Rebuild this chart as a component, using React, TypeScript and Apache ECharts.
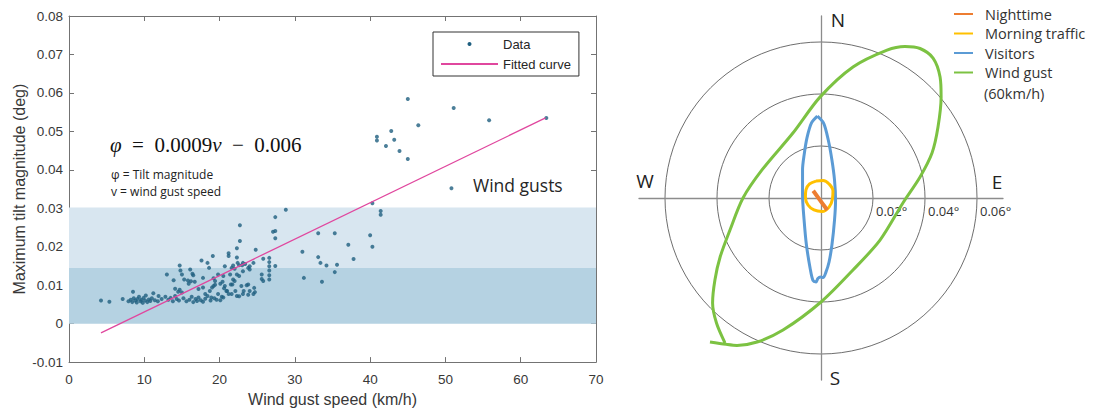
import React, { useEffect, useRef } from "react";
import * as echarts from "echarts";

// ---------- Left panel data ----------
const xTickStep = 10;
const yTickStep = 0.01;
const bandEdges = [0, 0.0145, 0.0302]; // traffic: 0..0.0145, visitors: 0.0145..0.0302
const bandNames = ["Traffic", "Visitors", "Wind gusts"];

const lowWindPoints = [
  [4.25, 0.006], [5.36, 0.0057], [7.13, 0.0064], [7.9, 0.0058], [8.2, 0.0062], [8.4, 0.0056],
  [8.5, 0.0083], [8.6, 0.0066], [8.8, 0.006], [9.0, 0.0055], [9.1, 0.0064], [9.3, 0.007],
  [9.5, 0.0058], [9.6, 0.0062], [9.8, 0.0054], [9.9, 0.0067], [10.1, 0.006], [10.2, 0.0073],
  [10.4, 0.0056], [10.6, 0.0063], [10.8, 0.0059], [11.0, 0.0066], [11.2, 0.0079], [11.4, 0.0061],
  [11.8, 0.0058], [11.9, 0.0072], [12.3, 0.0064], [12.8, 0.007], [13.0, 0.0128], [13.2, 0.0062],
  [13.5, 0.0067], [13.8, 0.0058], [13.9, 0.0113], [14.1, 0.0091], [14.1, 0.0072], [14.3, 0.0064],
  [14.5, 0.0083], [14.6, 0.006], [14.7, 0.0088], [14.7, 0.0151], [14.8, 0.0138], [15.0, 0.0128],
  [15.0, 0.0081], [15.2, 0.0066], [15.3, 0.0115], [15.6, 0.0058], [15.8, 0.0112], [15.9, 0.0104],
  [16.0, 0.0062], [16.1, 0.0141], [16.2, 0.011], [16.3, 0.007], [16.4, 0.013], [16.5, 0.0056],
  [16.5, 0.0126], [16.7, 0.0109], [16.8, 0.0064], [17.0, 0.0059], [17.2, 0.0068], [17.2, 0.009],
  [17.5, 0.0061], [17.6, 0.0164], [17.8, 0.0119], [17.8, 0.0094], [17.8, 0.0057], [18.1, 0.0065],
  [18.1, 0.0077], [18.4, 0.0072], [18.4, 0.0158], [18.6, 0.0145], [18.7, 0.0085], [18.8, 0.006],
  [18.9, 0.0068], [19.0, 0.0094], [19.1, 0.0176], [19.2, 0.0118], [19.2, 0.0098], [19.3, 0.0066],
  [19.4, 0.0101], [19.4, 0.0111], [19.6, 0.0062], [19.8, 0.0128], [19.8, 0.0077],
];

const midWindPoints = [
  [20.1, 0.0061], [20.1, 0.0104], [20.3, 0.007], [20.4, 0.0109], [20.5, 0.0124], [20.5, 0.0068],
  [20.6, 0.0092], [20.7, 0.0098], [20.7, 0.0149], [20.9, 0.0085], [21.0, 0.0085], [21.2, 0.0077],
  [21.2, 0.0183], [21.2, 0.0176], [21.4, 0.0128], [21.5, 0.0102], [21.6, 0.0077], [21.6, 0.0145],
  [21.7, 0.0102], [21.8, 0.0115], [21.8, 0.0151], [22.0, 0.0111], [22.0, 0.0143], [22.1, 0.0085],
  [22.3, 0.0128], [22.3, 0.0072], [22.3, 0.0196], [22.3, 0.0172], [22.4, 0.0158], [22.6, 0.0124],
  [22.6, 0.0071], [22.6, 0.0152], [22.7, 0.0256], [22.7, 0.0215], [22.9, 0.0098], [23.0, 0.0152],
  [23.1, 0.0136], [23.1, 0.0077], [23.1, 0.0158], [23.2, 0.0085], [23.4, 0.0155], [23.6, 0.01],
  [23.8, 0.0102], [23.8, 0.0075], [23.8, 0.0145], [24.0, 0.0141], [24.0, 0.0085], [24.0, 0.0149],
  [24.5, 0.0077], [24.5, 0.0158], [24.6, 0.0093], [24.7, 0.0082], [24.8, 0.0192], [25.6, 0.0128],
  [25.6, 0.0116], [25.8, 0.0111], [25.8, 0.0169], [26.6, 0.0171], [26.6, 0.016], [26.6, 0.0149],
  [26.6, 0.0138], [26.6, 0.0126], [26.6, 0.0115], [27.1, 0.0239], [27.4, 0.0241], [27.4, 0.0277],
  [27.4, 0.0222], [27.4, 0.015], [28.8, 0.0296],
];

const highWindPoints = [
  [31.0, 0.0187], [31.2, 0.0119], [33.1, 0.0235], [33.1, 0.0173], [33.4, 0.0158], [33.6, 0.0109],
  [34.2, 0.0151], [35.3, 0.0235], [35.3, 0.0134], [35.6, 0.0153], [37.1, 0.0205], [37.8, 0.0168],
  [40.0, 0.023], [40.3, 0.02], [40.3, 0.0313], [41.4, 0.0293], [41.4, 0.0283], [40.9, 0.0486],
  [40.9, 0.0476], [42.1, 0.0462], [42.8, 0.0501], [43.2, 0.0478], [43.9, 0.0449], [45.0, 0.0584],
  [45.0, 0.0428], [46.4, 0.0516], [50.8, 0.0352], [51.1, 0.0561], [55.8, 0.0529], [63.4, 0.0535],
];

const fittedCurve = [[4.25, -0.0024], [63.3, 0.0535]];

// ---------- Right panel data (tilt in degrees, [East, North]) ----------
const ringValues = [0.02, 0.04, 0.06];
const compassLabels = ["N", "S", "E", "W"];

const nighttime = [[-0.003, 0.0028], [-0.0004, -0.0008], [0.0024, -0.0046]];

const morningTraffic = [
  [-0.0019, 0.0065], [0.0008, 0.0067], [0.0031, 0.0054], [0.0046, 0.0027], [0.0044, -0.0004],
  [0.0031, -0.0035], [0.0004, -0.0052], [-0.0027, -0.0046], [-0.005, -0.0027], [-0.006, 0.0004],
  [-0.0058, 0.0031], [-0.0044, 0.0054], [-0.0019, 0.0065],
];

const visitors = [
  [-0.0014, 0.0315], [0.001, 0.0288], [0.0028, 0.0223], [0.0042, 0.0146], [0.0052, 0.0069],
  [0.0056, -0.0008], [0.0052, -0.0085], [0.0042, -0.0181], [0.0031, -0.0246], [0.0019, -0.0285],
  [0.0008, -0.0306], [-0.0002, -0.0304], [-0.0012, -0.031], [-0.0019, -0.0323], [-0.0031, -0.0317],
  [-0.0042, -0.0269], [-0.0056, -0.0181], [-0.0065, -0.0085], [-0.0071, 0.0012], [-0.0071, 0.0108],
  [-0.0065, 0.0165], [-0.0054, 0.0231], [-0.0037, 0.0288], [-0.0014, 0.0315],
];

const windGust = [
  [-0.0427, -0.0554], [-0.0365, -0.0563], [-0.0323, -0.0567], [-0.0246, -0.0554], [-0.0146, -0.0508],
  [0.0, -0.04], [0.0123, -0.0277], [0.0227, -0.0162], [0.0315, -0.0019], [0.0381, 0.0081],
  [0.0427, 0.0173], [0.045, 0.0273], [0.0462, 0.0388], [0.0458, 0.0465], [0.0431, 0.0538],
  [0.0381, 0.0575], [0.0323, 0.0583], [0.0254, 0.0569], [0.0123, 0.0504], [-0.0004, 0.0388],
  [-0.0108, 0.025], [-0.0227, 0.0108], [-0.03, 0.0], [-0.035, -0.0123], [-0.0388, -0.0227],
  [-0.0408, -0.0315], [-0.0417, -0.0404], [-0.0402, -0.0481], [-0.0369, -0.0558],
];

const AXIS_GRAY = "#737373";
const TEXT_GRAY = "#383838";
const SANS = "'Liberation Sans', Arial, sans-serif";
const NOTE = "'Open Sans', 'Noto Sans', sans-serif";

export default function App() {
  const ref = useRef<HTMLDivElement>(null);

  useEffect(() => {
    const chart = echarts.init(ref.current!, undefined, { renderer: "svg" });

    const ringFmt = (v: number) => {
      const r = Math.round(v * 1000) / 1000;
      return ringValues.some((t) => Math.abs(t - r) < 1e-9) ? r.toFixed(2) + "°" : "";
    };

    const hiddenAxis = { show: false };

    const option: any = {
      animation: false,
      backgroundColor: "#ffffff",
      grid: [
        { left: 69, top: 16, width: 527, height: 352 },
        { left: 639, top: 16, width: 364, height: 364 },
        { left: 639, top: 16, width: 364, height: 182 },
      ],
      polar: { center: [821, 198], radius: 156 },
      radiusAxis: {
        polarIndex: 0,
        min: 0,
        max: ringValues[ringValues.length - 1],
        interval: ringValues[0],
        axisLine: { show: false },
        axisTick: { show: false },
        axisLabel: { show: false },
        splitLine: { show: true, lineStyle: { color: "#5e5e5e", width: 0.9 } },
      },
      angleAxis: {
        polarIndex: 0,
        axisLine: { show: false },
        axisTick: { show: false },
        axisLabel: { show: false },
        splitLine: { show: false },
      },
      xAxis: [
        {
          gridIndex: 0,
          type: "value",
          min: 0,
          max: 70,
          interval: xTickStep,
          name: "Wind gust speed (km/h)",
          nameLocation: "middle",
          nameGap: 27,
          nameTextStyle: { fontSize: 16, color: TEXT_GRAY, fontFamily: SANS },
          axisLine: { onZero: false, lineStyle: { color: AXIS_GRAY } },
          axisTick: { inside: true, length: 5, lineStyle: { color: AXIS_GRAY } },
          axisLabel: { color: TEXT_GRAY, fontSize: 13.5, fontFamily: SANS, margin: 10 },
          splitLine: { show: false },
        },
        {
          gridIndex: 0,
          type: "value",
          position: "top",
          min: 0,
          max: 70,
          interval: xTickStep,
          axisLine: { onZero: false, lineStyle: { color: AXIS_GRAY } },
          axisTick: { inside: true, length: 5, lineStyle: { color: AXIS_GRAY } },
          axisLabel: { show: false },
          splitLine: { show: false },
        },
        {
          gridIndex: 1,
          type: "value",
          min: -0.07,
          max: 0.07,
          interval: 0.01,
          axisLine: { onZero: true, lineStyle: { color: "#8c8c8c", width: 1.3 } },
          axisTick: { show: false },
          axisLabel: { show: false },
          splitLine: { show: false },
        },
        {
          gridIndex: 2,
          type: "value",
          min: -0.07,
          max: 0.07,
          interval: 0.01,
          axisLine: { show: false, onZero: false },
          axisTick: { show: false },
          axisLabel: {
            formatter: ringFmt,
            align: "left",
            padding: [0, 0, 0, 3],
            color: "#333",
            fontSize: 13,
            fontFamily: NOTE,
            margin: 6,
          },
          splitLine: { show: false },
        },
      ],
      yAxis: [
        {
          gridIndex: 0,
          type: "value",
          min: -0.01,
          max: 0.08,
          interval: yTickStep,
          name: "Maximum tilt magnitude (deg)",
          nameLocation: "middle",
          nameGap: 42,
          nameTextStyle: { fontSize: 16, color: TEXT_GRAY, fontFamily: SANS },
          axisLine: { onZero: false, lineStyle: { color: AXIS_GRAY } },
          axisTick: { inside: true, length: 5, lineStyle: { color: AXIS_GRAY } },
          axisLabel: { color: TEXT_GRAY, fontSize: 13.5, fontFamily: SANS, margin: 6 },
          splitLine: { show: false },
        },
        {
          gridIndex: 0,
          type: "value",
          position: "right",
          min: -0.01,
          max: 0.08,
          interval: yTickStep,
          axisLine: { onZero: false, lineStyle: { color: AXIS_GRAY } },
          axisTick: { inside: true, length: 5, lineStyle: { color: AXIS_GRAY } },
          axisLabel: { show: false },
          splitLine: { show: false },
        },
        {
          gridIndex: 1,
          type: "value",
          min: -0.07,
          max: 0.07,
          interval: 0.01,
          axisLine: { onZero: true, lineStyle: { color: "#8c8c8c", width: 1.3 } },
          axisTick: { show: false },
          axisLabel: { show: false },
          splitLine: { show: false },
        },
        { gridIndex: 2, type: "value", min: 0, max: 0.07, ...hiddenAxis },
      ],
      legend: [
        {
          data: [
            { name: "Data", icon: "circle", itemStyle: { opacity: 1 } },
            { name: "Fitted curve", itemStyle: { opacity: 0, borderWidth: 0 } },
          ],
          orient: "vertical",
          left: 433,
          top: 32,
          padding: [5, 8, 5, 7],
          itemWidth: 57,
          itemHeight: 4,
          itemGap: 6,
          borderColor: "#333",
          borderWidth: 1,
          backgroundColor: "#fff",
          textStyle: { fontSize: 13, lineHeight: 14, color: "#262626", fontFamily: SANS },
        },
        {
          data: ["Nighttime", "Morning traffic", "Visitors", "Wind gust"],
          orient: "vertical",
          left: 953,
          top: 6,
          padding: 0,
          itemWidth: 19,
          itemHeight: 8,
          itemGap: 3.5,
          lineStyle: { width: 2 },
          itemStyle: { opacity: 0, borderWidth: 0 },
          textStyle: {
            fontSize: 14.5,
            lineHeight: 16,
            color: "#333",
            fontFamily: NOTE,
            padding: [0, 0, 0, 7],
          },
        },
      ],
      graphic: [
        {
          type: "text",
          x: 110,
          y: 145,
          style: {
            text: "{i|φ}  =  0.0009{i|v}  −  0.006",
            font: "21px 'Liberation Serif', serif",
            fill: "#111",
            verticalAlign: "middle",
            rich: { i: { fontStyle: "italic", fontSize: 21, fontFamily: "'Liberation Serif', serif" } },
          },
        },
        { type: "text", x: 111, y: 174, style: { text: "φ = Tilt magnitude", font: `12px ${NOTE}`, fill: "#222", verticalAlign: "middle" } },
        { type: "text", x: 111, y: 191, style: { text: "v = wind gust speed", font: `12px ${NOTE}`, fill: "#222", verticalAlign: "middle" } },
        { type: "text", x: 473, y: 185, style: { text: bandNames[2], font: `17.5px ${NOTE}`, fill: "#262626", verticalAlign: "middle" } },
        { type: "text", x: 462, y: 245, style: { text: bandNames[1], font: `17.5px ${NOTE}`, fill: "#262626", verticalAlign: "middle" } },
        { type: "text", x: 453, y: 301, style: { text: bandNames[0], font: `17.5px ${NOTE}`, fill: "#262626", verticalAlign: "middle" } },
        { type: "text", x: 838, y: 20, style: { text: compassLabels[0], font: `19px ${NOTE}`, fill: "#222", align: "center", verticalAlign: "middle" } },
        { type: "text", x: 835, y: 378, style: { text: compassLabels[1], font: `19px ${NOTE}`, fill: "#222", align: "center", verticalAlign: "middle" } },
        { type: "text", x: 997, y: 182, style: { text: compassLabels[2], font: `19px ${NOTE}`, fill: "#222", align: "center", verticalAlign: "middle" } },
        { type: "text", x: 645, y: 181, style: { text: compassLabels[3], font: `19px ${NOTE}`, fill: "#222", align: "center", verticalAlign: "middle" } },
        { type: "text", x: 984, y: 93, style: { text: "(60km/h)", font: `14.5px ${NOTE}`, fill: "#333", verticalAlign: "middle" } },
      ],
      series: [
        {
          name: "bands",
          type: "line",
          xAxisIndex: 0,
          yAxisIndex: 0,
          data: [],
          z: 1,
          silent: true,
          markArea: {
            silent: true,
            data: [
              [
                { xAxis: 0, yAxis: bandEdges[0], itemStyle: { color: "#b5d2e2" } },
                { xAxis: 70, yAxis: bandEdges[1] },
              ],
              [
                { xAxis: 0, yAxis: bandEdges[1], itemStyle: { color: "#d8e6f0" } },
                { xAxis: 70, yAxis: bandEdges[2] },
              ],
            ],
          },
        },
        {
          name: "Data",
          type: "scatter",
          xAxisIndex: 0,
          yAxisIndex: 0,
          symbol: "circle",
          symbolSize: 4,
          itemStyle: { color: "#1f5f80" },
          data: [...lowWindPoints, ...midWindPoints, ...highWindPoints],
          z: 3,
        },
        {
          name: "Fitted curve",
          type: "line",
          xAxisIndex: 0,
          yAxisIndex: 0,
          symbol: "none",
          lineStyle: { color: "#e0479e", width: 1.3 },
          itemStyle: { color: "#e0479e" },
          data: fittedCurve,
          z: 4,
        },
        {
          name: "Nighttime",
          type: "line",
          xAxisIndex: 2,
          yAxisIndex: 2,
          symbol: "none",
          clip: false,
          lineStyle: { color: "#ed7d31", width: 4 },
          itemStyle: { color: "#ed7d31" },
          data: nighttime,
          z: 7,
        },
        {
          name: "Morning traffic",
          type: "line",
          xAxisIndex: 2,
          yAxisIndex: 2,
          symbol: "none",
          smooth: 0.4,
          clip: false,
          lineStyle: { color: "#ffc000", width: 3 },
          itemStyle: { color: "#ffc000" },
          data: morningTraffic,
          z: 6,
        },
        {
          name: "Visitors",
          type: "line",
          xAxisIndex: 2,
          yAxisIndex: 2,
          symbol: "none",
          smooth: 0.3,
          clip: false,
          lineStyle: { color: "#5b9bd5", width: 3 },
          itemStyle: { color: "#5b9bd5" },
          data: visitors,
          z: 5,
        },
        {
          name: "Wind gust",
          type: "line",
          xAxisIndex: 2,
          yAxisIndex: 2,
          symbol: "none",
          smooth: 0.3,
          clip: false,
          lineStyle: { color: "#7cc242", width: 3 },
          itemStyle: { color: "#7cc242" },
          data: windGust,
          z: 4,
        },
      ],
    };

    chart.setOption(option);
    return () => chart.dispose();
  }, []);

  return (
    <div
      ref={ref}
      style={{ position: "fixed", left: 0, top: 0, width: 1096, height: 412, background: "#fff" }}
    />
  );
}
